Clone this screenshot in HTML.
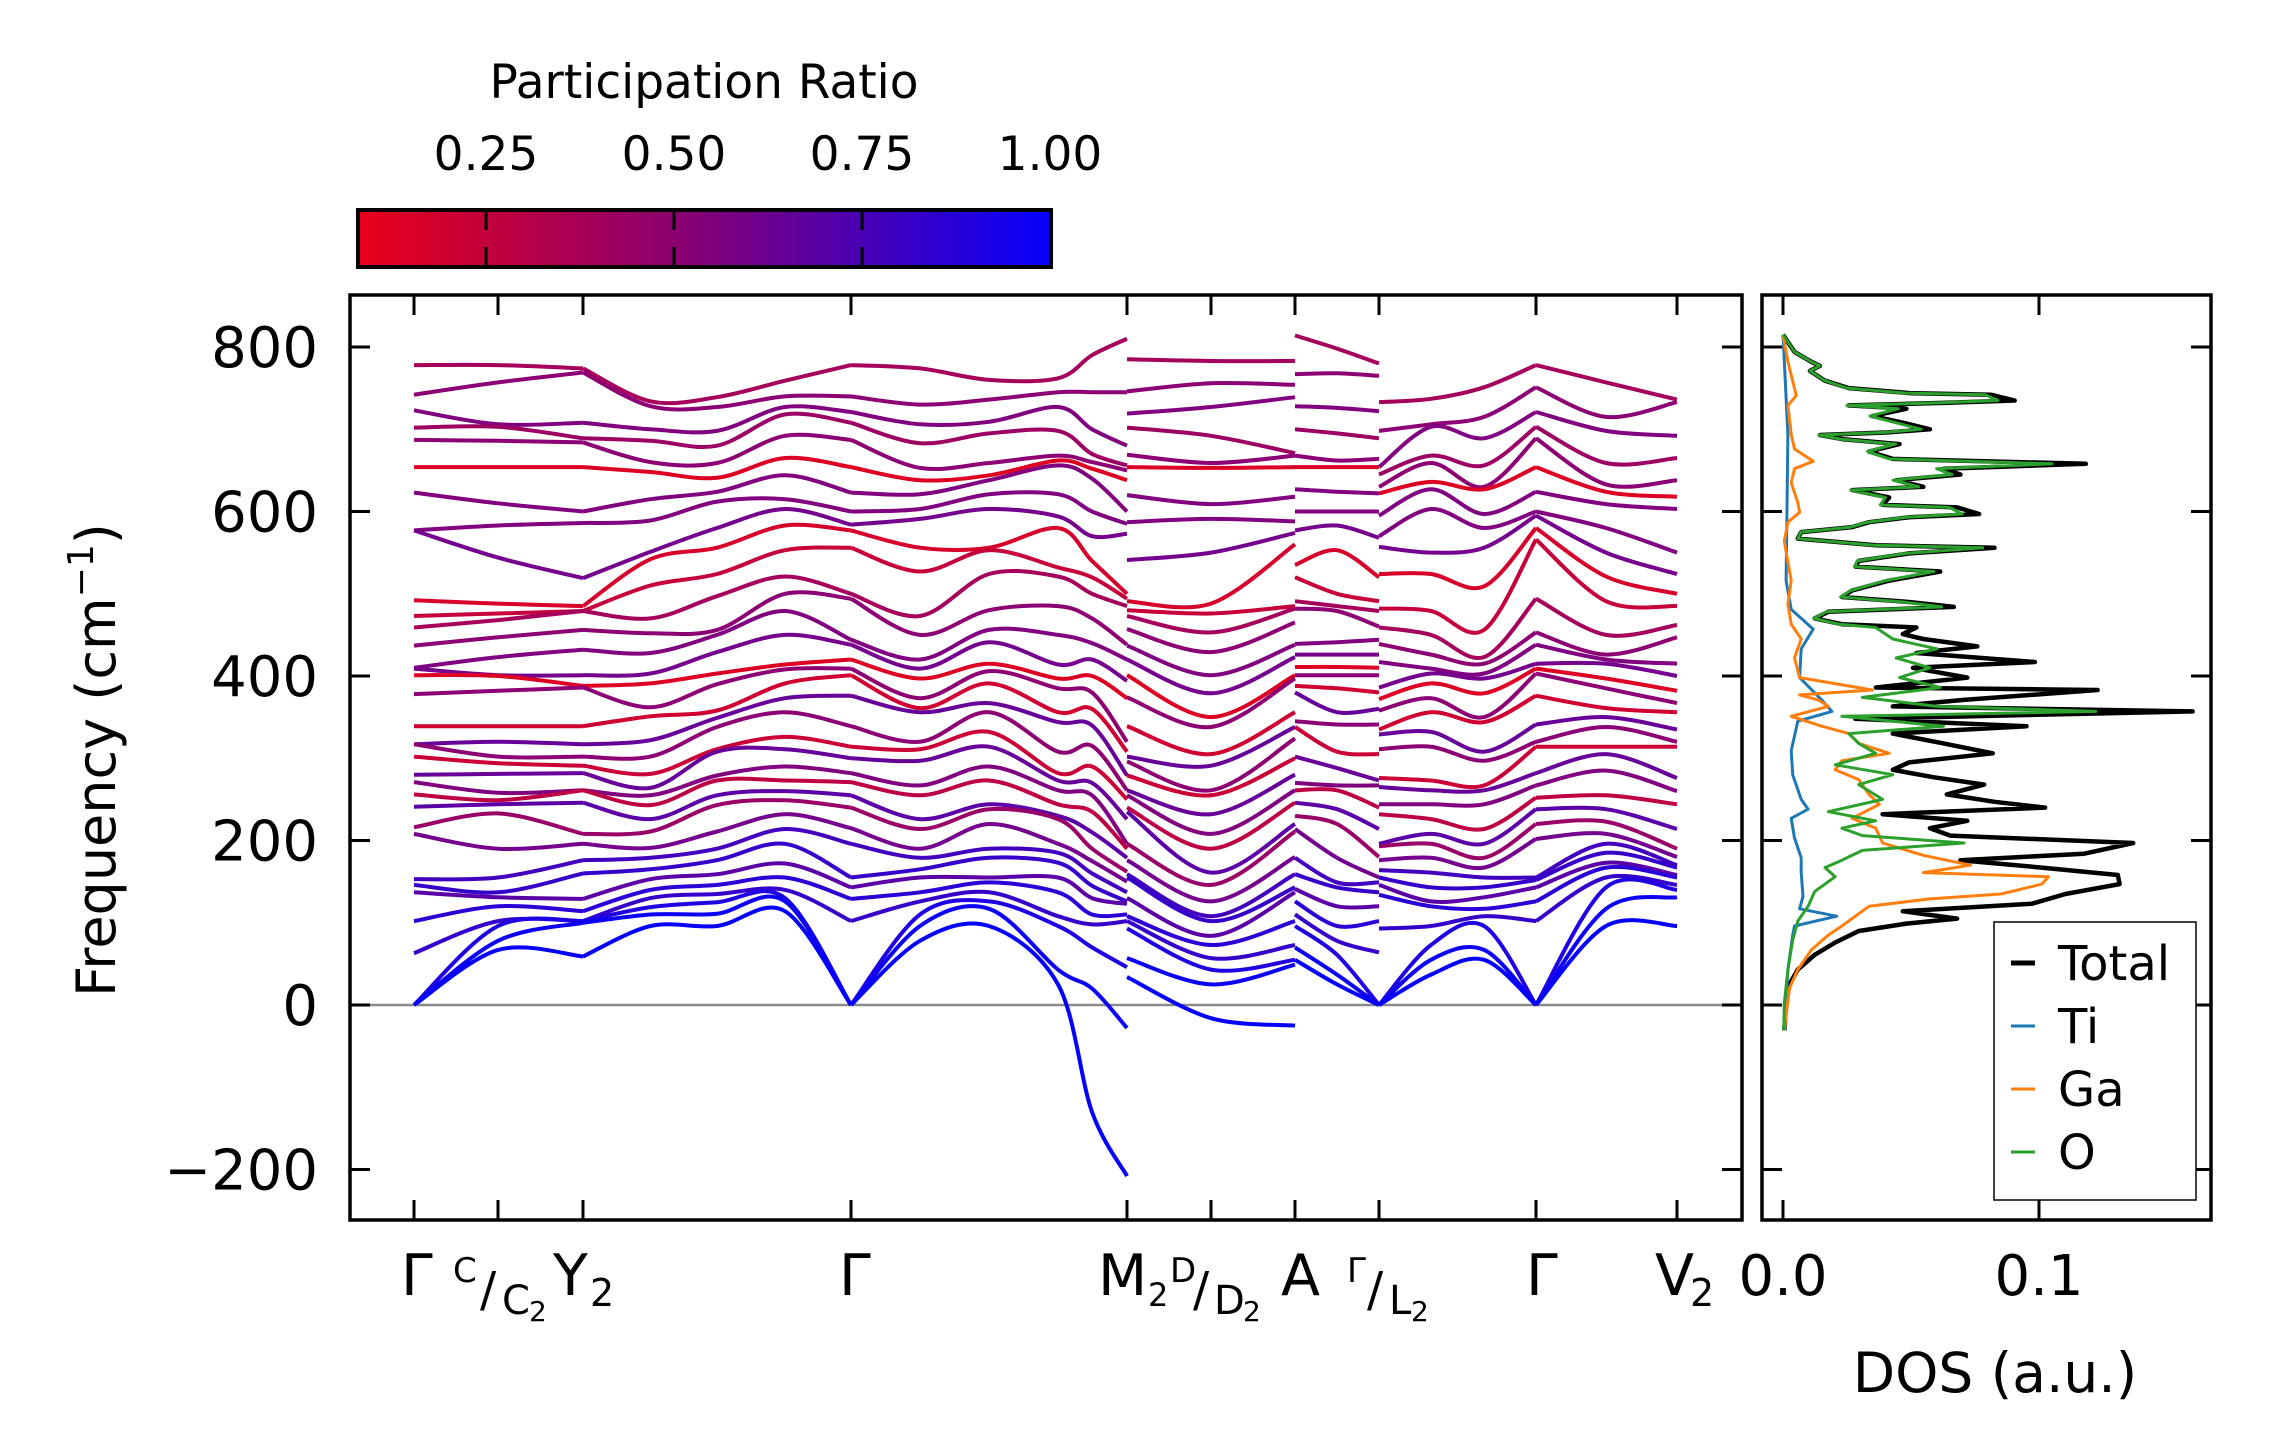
<!DOCTYPE html>
<html><head><meta charset="utf-8"><style>
html,body{margin:0;padding:0;background:#fff;}
svg{display:block;font-family:"DejaVu Sans","Liberation Sans",sans-serif;}
</style></head><body>
<svg id="fig" width="2271" height="1455" viewBox="0 0 2271 1455" xmlns="http://www.w3.org/2000/svg">
<defs>
<linearGradient id="cbg" x1="0" x2="1" y1="0" y2="0">
<stop offset="0" stop-color="rgb(232,0,24)"/>
<stop offset="0.5" stop-color="rgb(130,0,120)"/>
<stop offset="1" stop-color="rgb(5,0,252)"/>
</linearGradient>
</defs>
<g id="colorbar">
<text x="704" y="98" font-size="47" text-anchor="middle">Participation Ratio</text>
<rect x="358" y="210" width="693" height="57" fill="url(#cbg)" stroke="#000" stroke-width="4"/>
</g>
<g id="main"></g>
<g id="dos"></g>
<text transform="translate(115,760) rotate(-90)" font-size="54" text-anchor="middle">Frequency (cm<tspan font-size="36" dy="-22">−1</tspan><tspan dy="22">)</tspan></text>
<text x="1995" y="1392" font-size="55" text-anchor="middle">DOS (a.u.)</text>
</svg>
<script>
// ---------- data ----------
var kTicks = [0, 0.84, 1.69, 4.37, 7.13, 7.97, 8.81, 9.65, 11.22, 12.63];
var yTicks = [-200, 0, 200, 400, 600, 800];
var cbTicks = [0.25, 0.5, 0.75, 1.0];
var cbLabels = ["0.25", "0.50", "0.75", "1.00"];
var bandPR = [0.35,0.45,0.5,0.38,0.45,0.12,0.5,0.5,0.55,0.15,0.22,0.35,0.45,0.5,0.55,0.12,0.45,0.18,0.6,0.45,0.2,0.6,0.5,0.25,0.65,0.4,0.55,0.75,0.8,0.65,0.85,0.8,0.9,0.97,1.0];

var seg1K = [0, 0.84, 1.69];
var seg1 = [
 [778,742,723,702,687,654,623,577,577,492,473,459,437,410,409,401,378,339,317,317,302,280,271,256,241,216,208,153,146,137,102,63,0,0,0],
 [778,757,706,703,686,654,610,583,544,488,476,468,447,423,400,401,382,339,320,294,302,281,249,258,244,233,190,155,137,131,120,102,96,78,67],
 [774,769,708,689,684,654,600,586,519,485,479,479,456,432,388,401,386,339,317,282,302,291,261,261,246,208,196,176,160,129,114,102,102,100,59]];
var seg2K = [1.69, 2.365, 3.03, 3.71, 4.37];
var seg2 = [
 [774,769,708,689,684,654,600,586,519,485,479,479,456,432,388,401,386,339,317,282,302,291,261,261,246,208,196,176,160,129,114,102,102,100,59],
 [734,728,700,686,660,648,615,589,551,542,510,470,452,428,403,391,362,351,322,302,281,264,255,243,226,211,191,179,165,153,140,130,119,110,96],
 [739,727,698,680,659,641,624,612,580,556,524,497,456,450,429,403,390,358,349,338,311,308,279,273,255,243,211,190,176,159,146,135,125,111,96],
 [759,740,727,718,692,665,644,615,603,583,553,521,500,479,450,414,408,391,373,356,326,311,290,273,260,249,232,214,196,172,155,140,130,126,114],
 [778,740,721,708,687,654,623,600,584,577,556,500,494,444,438,420,409,401,376,339,314,300,282,271,255,240,215,196,155,143,129,102,0,0,0]];
var seg3K = [4.37, 5.06, 5.75, 6.44, 6.78, 7.13];
var seg3 = [
 [778,740,721,708,687,654,623,600,584,577,556,500,494,444,438,420,409,401,376,339,314,300,282,271,255,240,215,196,155,143,129,102,0,0,0],
 [774,730,706,683,653,638,621,603,591,556,527,473,450,420,409,397,373,361,356,320,311,297,267,255,226,214,190,179,165,155,137,126,110,96,78],
 [760,736,709,695,659,644,638,621,603,556,553,524,480,456,441,415,406,391,367,356,332,314,290,273,244,238,220,190,179,155,149,137,126,117,96],
 [762,745,727,698,668,662,656,621,594,580,532,521,485,450,414,397,385,356,344,308,282,273,261,244,230,226,196,185,173,155,137,108,96,43,25],
 [790,745,700,670,660,652,640,600,570,540,520,500,470,440,420,400,380,360,340,315,290,270,255,235,210,190,175,160,145,130,110,98,70,20,-130],
 [810,745,680,656,650,638,600,585,573,500,494,485,438,420,394,373,320,308,279,261,250,226,196,190,179,162,150,137,126,123,110,102,46,-28,-208]];
var seg4K = [7.13, 7.97, 8.81];
var seg4 = [
 [785,746,719,702,669,654,620,587,541,491,480,473,457,437,420,401,374,339,302,296,279,261,255,240,235,196,176,159,155,130,108,102,93,57,34],
 [783,756,727,692,659,653,609,591,550,488,476,453,429,401,379,350,338,305,291,261,255,232,208,190,161,146,126,108,102,84,73,57,43,25,-16],
 [783,754,739,671,668,654,618,588,574,560,485,482,465,438,423,401,397,356,338,324,300,280,261,246,220,211,180,159,143,137,102,73,55,49,-25]];
var seg5K = [8.81, 9.23, 9.65];
var seg5 = [
 [814,767,728,700,668,654,627,600,577,535,520,491,482,439,426,411,401,388,380,345,338,302,270,261,246,230,214,179,159,141,126,110,96,70,55],
 [798,768,726,695,662,654,624,600,583,553,500,485,479,441,426,411,401,385,356,341,308,288,267,261,238,220,179,149,143,120,96,78,61,37,25],
 [780,765,722,689,664,654,622,600,568,520,491,479,460,444,426,410,401,380,360,341,305,273,267,240,214,180,155,149,137,120,102,64,0,0,0]];
var seg6K = [9.65, 10.17, 10.70, 11.22];
var seg6 = [
 [733,698,654,645,630,622,595,570,557,524,482,459,439,417,386,372,358,335,329,311,276,265,244,232,196,193,176,164,155,146,134,93,0,0,0],
 [737,706,703,668,659,636,627,603,550,524,479,450,426,409,403,391,373,356,332,314,273,261,244,226,208,196,179,161,143,126,120,96,73,55,37],
 [751,715,689,656,630,627,597,580,556,509,456,423,415,403,397,379,350,344,308,297,267,261,244,214,196,179,167,155,143,131,117,108,96,67,55],
 [778,751,721,703,689,654,624,600,595,580,566,494,453,438,415,409,403,376,341,320,314,282,267,252,238,220,202,155,152,143,126,102,0,0,0]];
var seg7K = [11.22, 11.92, 12.63];
var seg7 = [
 [778,751,721,703,689,654,624,600,595,580,566,494,453,438,415,409,403,376,341,320,314,282,267,252,238,220,202,155,152,143,126,102,0,0,0],
 [757,715,698,659,633,624,609,580,550,521,491,450,426,420,415,397,385,361,350,338,314,305,285,255,238,223,208,196,185,173,167,155,143,117,96],
 [736,733,692,665,638,618,603,550,524,500,485,462,447,415,400,382,367,356,335,320,314,276,260,244,214,190,180,170,167,158,155,146,140,131,96]];

// DOS data: frequency (cm^-1) and DOS value
var totalFreq = [815,794,782,777,771,759,750,744,742,735,732,729,725,716,708,700,696,693,688,682,673,664,658,652,645,638,630,626,617,608,605,597,593,587,581,575,567,559,556,549,540,533,527,516,504,496,490,484,478,470,463,459,451,445,436,428,417,410,398,386,383,371,363,357,348,339,330,318,306,295,286,277,268,256,247,240,232,224,215,206,197,184,176,167,158,147,135,123,114,105,99,90,76,61,43,25,2,-31];
var totalDos = [0,.0045,.0111,.0144,.0105,.0164,.0257,.0495,.0812,.0905,.0627,.0257,.0482,.0349,.0468,.0574,.0402,.0144,.0230,.0455,.0336,.0429,.1183,.0627,.0693,.0442,.0548,.0270,.0415,.0389,.0680,.0766,.0492,.0336,.0270,.0071,.0058,.0363,.0826,.0492,.0296,.0283,.0614,.0415,.0270,.0230,.0492,.0667,.0177,.0124,.0230,.0521,.0468,.0548,.0759,.0521,.0984,.0508,.0720,.0363,.1229,.0707,.0429,.1600,.0283,.0951,.0429,.0627,.0819,.0492,.0429,.0587,.0786,.0640,.0826,.1024,.0389,.0720,.0574,.0654,.1368,.1176,.0693,.1011,.1308,.1315,.1103,.0971,.0468,.0680,.0482,.0296,.0204,.0124,.0058,.0025,.0012,.0005];
var oFreq = [815,794,782,777,771,759,750,744,742,735,732,729,725,716,708,700,696,693,688,682,673,664,658,652,645,638,630,626,617,608,605,597,593,587,581,575,567,559,556,549,540,533,527,516,504,496,490,484,478,470,463,459,445,433,422,410,398,386,374,363,357,351,339,330,318,306,292,280,268,250,235,224,215,206,197,188,176,167,156,138,120,102,79,43,2,-31];
var oDos = [0,.0045,.0111,.0144,.0105,.0164,.0250,.0480,.0790,.0840,.0600,.0250,.0450,.0340,.0440,.0540,.0390,.0140,.0225,.0440,.0330,.0415,.1050,.0600,.0660,.0430,.0530,.0265,.0400,.0380,.0650,.0700,.0480,.0330,.0265,.0070,.0058,.0355,.0780,.0480,.0290,.0280,.0590,.0400,.0265,.0225,.0470,.0620,.0170,.0120,.0220,.0362,.0429,.0601,.0442,.0574,.0455,.0614,.0310,.0601,.1222,.0230,.0627,.0257,.0296,.0362,.0204,.0429,.0296,.0389,.0177,.0362,.0230,.0310,.0707,.0310,.0230,.0164,.0204,.0124,.0098,.0058,.0038,.0019,.0005,.0003];
var gaFreq = [815,782,741,729,694,676,661,652,635,611,599,587,564,516,487,463,445,422,398,383,377,371,363,351,339,330,318,306,297,286,274,256,244,227,215,197,182,170,161,156,147,135,129,120,108,96,85,67,43,20,-31];
var gaDos = [0,.0019,.0052,.0019,.0032,.0045,.0118,.0045,.0032,.0058,.0065,.0019,.0005,.0032,.0019,.0032,.0071,.0045,.0065,.0349,.0065,.0138,.0177,.0032,.0151,.0257,.0296,.0415,.0230,.0204,.0296,.0336,.0376,.0270,.0362,.0389,.0548,.0733,.0548,.1037,.1011,.0852,.0574,.0336,.0283,.0230,.0177,.0111,.0058,.0025,.0005];
var tiFreq = [815,694,516,481,457,433,398,371,357,345,309,280,250,238,227,203,179,161,132,117,108,96,85,43,-31];
var tiDos = [0,.0019,.0012,.0032,.0118,.0071,.0065,.0151,.0191,.0058,.0032,.0038,.0071,.0098,.0032,.0045,.0071,.0071,.0078,.0065,.0210,.0045,.0038,.0019,.0005];
var dosTicks = [0, 0.1];
var dosTickLabels = ["0.0", "0.1"];
var legendNames = ["Total", "Ti", "Ga", "O"];
var legendColors = ["#000000", "#1f77b4", "#ff7f0e", "#2ca02c"];

// ---------- scales ----------
var NS = "http://www.w3.org/2000/svg";
var MX0 = 350, MX1 = 1742, TOP = 295, BOT = 1220;
function xk(k) { return 414 + k * 100; }
function yf(f) { return 1005 - f * 0.8225; }
var DX0 = 1762, DX1 = 2211;
function xd(v) { return 1783 + v * 2560; }
function cbx(v) { return 486 + (v - 0.25) * 752; }
function prColor(v) {
  var t = (v - 0.077) / (1 - 0.077);
  t = Math.max(0, Math.min(1, t));
  var r = Math.round(232 * (1 - t) + 5 * t), b = Math.round(24 * (1 - t) + 252 * t);
  return "rgb(" + r + ",0," + b + ")";
}
function mk(tag, attrs, parent) {
  var e = document.createElementNS(NS, tag);
  for (var a in attrs) e.setAttribute(a, attrs[a]);
  parent.appendChild(e);
  return e;
}
function smooth(pts) {
  var d = "M" + pts[0][0].toFixed(1) + "," + pts[0][1].toFixed(1);
  for (var i = 0; i < pts.length - 1; i++) {
    var p0 = pts[i - 1] || pts[i], p1 = pts[i], p2 = pts[i + 1], p3 = pts[i + 2] || p2;
    var c1x = p1[0] + (p2[0] - p0[0]) / 6, c1y = p1[1] + (p2[1] - p0[1]) / 6;
    var c2x = p2[0] - (p3[0] - p1[0]) / 6, c2y = p2[1] - (p3[1] - p1[1]) / 6;
    d += "C" + c1x.toFixed(1) + "," + c1y.toFixed(1) + " " + c2x.toFixed(1) + "," + c2y.toFixed(1) + " " + p2[0].toFixed(1) + "," + p2[1].toFixed(1);
  }
  return d;
}

var svg = document.getElementById("fig");
var main = document.getElementById("main");
var dos = document.getElementById("dos");
var cb = document.getElementById("colorbar");

cbTicks.forEach(function (v, i) {
  var x = cbx(v);
  if (v < 1) {
    var t1 = mk("line", {x1: x, x2: x, y1: 210, y2: 230, stroke: "#000", "stroke-width": 3}, cb);
    
    
    var t2 = mk("line", {x1: x, x2: x, y1: 247, y2: 267, stroke: "#000", "stroke-width": 3}, cb);
    
    
  }
  var lb = mk("text", {x: x, y: 170, "font-size": 47, "text-anchor": "middle"}, cb);
  lb.textContent = cbLabels[i];
  
  
});

var zl = mk("line", {x1: MX0, x2: MX1, y1: yf(0), y2: yf(0), stroke: "#8a8a8a", "stroke-width": 2.5}, main);



var segs = [[seg1K, seg1], [seg2K, seg2], [seg3K, seg3], [seg4K, seg4], [seg5K, seg5], [seg6K, seg6], [seg7K, seg7]];
segs.forEach(function (s, si) {
  var ks = s[0], cols = s[1].map(function (c) { return c.slice().sort(function (a, b) { return b - a; }); });
  var n = Math.min.apply(null, cols.map(function (c) { return c.length; }));
  for (var b = 0; b < n; b++) {
    var pts = ks.map(function (k, j) { return [xk(k), yf(cols[j][b])]; });
    var p = mk("path", {d: smooth(pts), fill: "none", stroke: prColor(bandPR[b]), "stroke-width": 4, "stroke-linecap": "butt"}, main);
    
    
  }
});

var fr = mk("rect", {x: MX0, y: TOP, width: MX1 - MX0, height: BOT - TOP, fill: "none", stroke: "#000", "stroke-width": 3.5}, main);


kTicks.forEach(function (k) {
  var x = xk(k);
  var a = mk("line", {x1: x, x2: x, y1: BOT, y2: BOT - 20, stroke: "#000", "stroke-width": 3}, main);
  
  
  var b = mk("line", {x1: x, x2: x, y1: TOP, y2: TOP + 20, stroke: "#000", "stroke-width": 3}, main);
  
  
});
yTicks.forEach(function (f) {
  var y = yf(f);
  [[MX0, MX0 + 20], [MX1, MX1 - 20], [DX0, DX0 + 20], [DX1, DX1 - 20]].forEach(function (xx, i) {
    var t = mk("line", {x1: xx[0], x2: xx[1], y1: y, y2: y, stroke: "#000", "stroke-width": 3}, i < 2 ? main : dos);
    
    
  });
  var lb = mk("text", {x: 318, y: y + 20, "font-size": 56, "text-anchor": "end"}, main);
  lb.textContent = f < 0 ? "\u2212" + Math.abs(f) : String(f);
  
  
});

var lblParts = [
  [401, 1295, 57, "Γ"],
  [453, 1282, 34, "C"], [480, 1306, 48, "/"], [502, 1314, 40, "C"], [529, 1321, 28, "2"],
  [553, 1295, 57, "Y"], [590, 1306, 38, "2"],
  [839, 1295, 57, "Γ"],
  [1098, 1295, 57, "M"], [1148, 1306, 32, "2"],
  [1170, 1282, 34, "D"], [1193, 1306, 48, "/"], [1214, 1314, 40, "D"], [1243, 1321, 28, "2"],
  [1281, 1295, 57, "A"],
  [1347, 1282, 34, "Γ"], [1367, 1306, 48, "/"], [1389, 1314, 40, "L"], [1411, 1321, 28, "2"],
  [1526, 1295, 57, "Γ"],
  [1655, 1295, 57, "V"], [1690, 1306, 38, "2"]
];
lblParts.forEach(function (p) {
  var t = mk("text", {x: p[0], y: p[1], "font-size": p[2]}, main);
  t.textContent = p[3];
  
  
});

function dosLine(fr, dv, color, w, name) {
  var pts = fr.map(function (f, i) { return xd(dv[i]).toFixed(1) + "," + yf(f).toFixed(1); }).join(" ");
  var pl = mk("polyline", {points: pts, fill: "none", stroke: color, "stroke-width": w, "stroke-linejoin": "round"}, dos);
  
  
}
dosLine(totalFreq, totalDos, "#000000", 4.5, "dos-total-line");
dosLine(tiFreq, tiDos, "#1f77b4", 3, "dos-ti-line");
dosLine(gaFreq, gaDos, "#ff7f0e", 3, "dos-ga-line");
dosLine(oFreq, oDos, "#2ca02c", 3, "dos-o-line");

var df = mk("rect", {x: DX0, y: TOP, width: DX1 - DX0, height: BOT - TOP, fill: "none", stroke: "#000", "stroke-width": 3.5}, dos);


dosTicks.forEach(function (v, i) {
  var x = xd(v);
  var a = mk("line", {x1: x, x2: x, y1: BOT, y2: BOT - 20, stroke: "#000", "stroke-width": 3}, dos);
  
  
  var b = mk("line", {x1: x, x2: x, y1: TOP, y2: TOP + 20, stroke: "#000", "stroke-width": 3}, dos);
  
  
  var lb = mk("text", {x: x, y: 1295, "font-size": 56, "text-anchor": "middle"}, dos);
  lb.textContent = dosTickLabels[i];
  
  
});

var lg = mk("rect", {x: 1994, y: 922, width: 202, height: 278, fill: "#fff", stroke: "#000", "stroke-width": 1.5}, dos);


legendNames.forEach(function (nm, i) {
  var y = 963 + i * 63;
  var ln = mk("line", {x1: 2011, x2: 2035, y1: y, y2: y, stroke: legendColors[i], "stroke-width": i === 0 ? 5 : 3}, dos);
  
  
  var tx = mk("text", {x: 2058, y: y + 17, "font-size": 48}, dos);
  tx.textContent = nm;
  
  
});
</script>
</body></html>
